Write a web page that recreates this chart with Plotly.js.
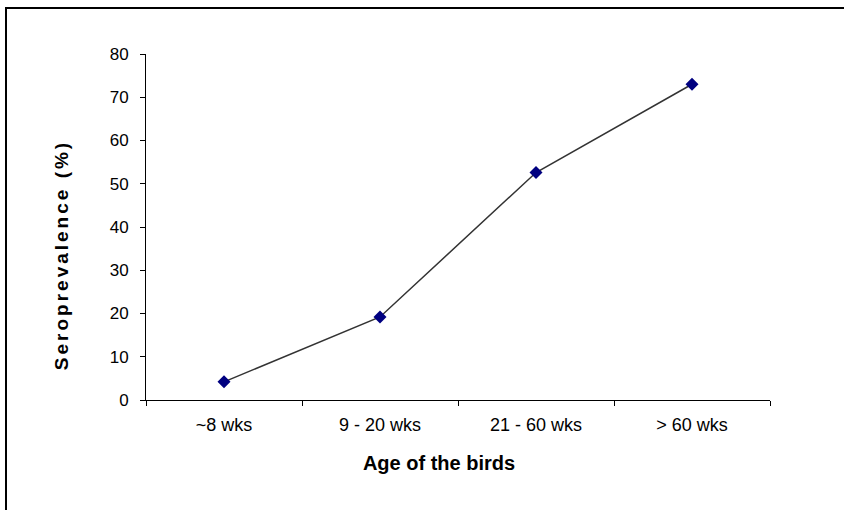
<!DOCTYPE html>
<html>
<head>
<meta charset="utf-8">
<script src="https://cdn.plot.ly/plotly-3.0.1.min.js"></script>
<style>
  html, body { margin: 0; padding: 0; background: #fff; }
  #wrap { position: relative; width: 844px; height: 510px; overflow: hidden; }
  #chart { width: 844px; height: 510px; }
  #frame { position: absolute; left: 5px; top: 7px; width: 900px; height: 600px;
           border-top: 2px solid #000; border-left: 2px solid #000; pointer-events: none; }
</style>
</head>
<body>
<div id="wrap">
  <div id="chart"></div>
  <div id="frame"></div>
</div>
<script>
const categories = ["~8 wks", "9 - 20 wks", "21 - 60 wks", "> 60 wks"];
const seroprevalence = [4.2, 19.2, 52.6, 73.0];
const yTickValues = [0, 10, 20, 30, 40, 50, 60, 70, 80];

const trace = {
  x: categories,
  y: seroprevalence,
  type: 'scatter',
  mode: 'lines+markers',
  line: { color: '#333333', width: 1.5 },
  marker: { symbol: 'diamond', size: 10, color: '#000080', line: { width: 0 } },
  hoverinfo: 'skip'
};

const layout = {
  width: 844,
  height: 510,
  margin: { l: 146, r: 74, t: 54, b: 110 },
  paper_bgcolor: '#ffffff',
  plot_bgcolor: '#ffffff',
  showlegend: false,
  font: { family: 'Liberation Sans, Arial, sans-serif', color: '#000' },
  xaxis: {
    type: 'category',
    range: [-0.5, 3.5],
    tickson: 'boundaries',
    ticks: 'outside',
    ticklen: 5,
    tickwidth: 1,
    tickcolor: '#000',
    showline: true,
    linecolor: '#000',
    linewidth: 1,
    showgrid: false,
    zeroline: false,
    tickfont: { size: 18 },
    ticklabelstandoff: 8,
    title: { text: 'Age of the birds', font: { size: 20, weight: 'bold' }, standoff: 22 }
  },
  yaxis: {
    range: [0, 80],
    tickvals: yTickValues,
    ticks: 'outside',
    ticklen: 5,
    tickwidth: 1,
    tickcolor: '#000',
    showline: true,
    linecolor: '#000',
    linewidth: 1,
    showgrid: false,
    zeroline: false,
    tickfont: { size: 17 },
    ticklabelstandoff: 8,
    title: { text: 'Seroprevalence (%)', font: { size: 19, weight: 'bold' }, standoff: 36 }
  }
};

Plotly.newPlot('chart', [trace], layout, { staticPlot: true, displayModeBar: false }).then(() => {
  const yt = document.querySelector('.ytitle');
  if (yt) {
    yt.style.letterSpacing = '3px';
    yt.setAttribute('transform', 'translate(0,28) ' + (yt.getAttribute('transform') || ''));
  }
  const xt = document.querySelector('.xtitle');
  if (xt) {
    xt.setAttribute('transform', 'translate(-19,0) ' + (xt.getAttribute('transform') || ''));
  }
});
</script>
</body>
</html>
